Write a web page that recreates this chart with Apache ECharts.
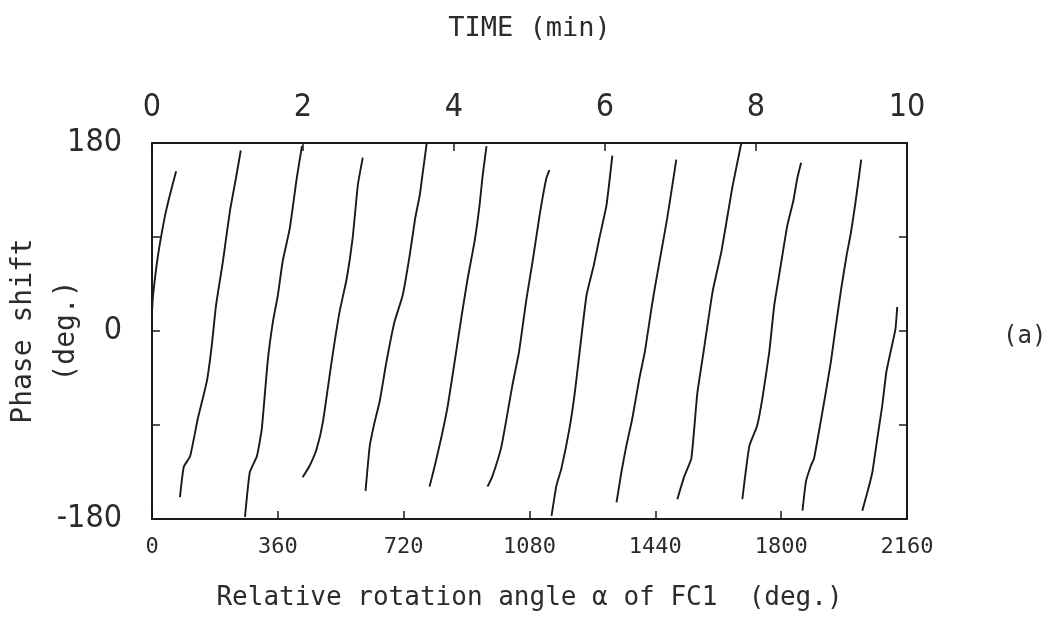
<!DOCTYPE html>
<html>
<head>
<meta charset="utf-8">
<script src="https://cdn.jsdelivr.net/npm/echarts@6/dist/echarts.min.js"></script>
<style>
  html, body { margin: 0; padding: 0; background: #fff; }
  #chart { width: 1052px; height: 619px; }
</style>
</head>
<body>
<div id="chart"></div>
<script>
// axis settings
var angleTicks = [0, 360, 720, 1080, 1440, 1800, 2160];
var timeTicks = [0, 2, 4, 6, 8, 10];
var phaseLabels = [-180, 0, 180];

// sawtooth branches: [relative rotation angle (deg), phase shift (deg)]
var seg1 = [[0, 18], [3, 34], [17, 72], [37, 110], [51, 130], [69, 153]];
var seg2 = [[80, -159], [91, -130], [109, -120], [131, -84], [157, -48], [171, -14], [183, 24], [203, 67], [223, 115], [240, 146], [254, 173]];
var seg3 = [[266, -178], [280, -135], [300, -120], [314, -94], [331, -29], [346, 9], [360, 34], [374, 67], [394, 98], [414, 146], [429, 177]];
var seg4 = [[431, -140], [451, -129], [471, -113], [489, -87], [514, -29], [537, 19], [557, 50], [574, 89], [589, 140], [603, 166]];
var seg5 = [[611, -153], [623, -110], [637, -87], [651, -68], [671, -29], [694, 9], [717, 34], [737, 72], [753, 108], [766, 130], [774, 150], [786, 180]];
var seg6 = [[794, -149], [809, -129], [829, -100], [846, -72], [866, -29], [886, 15], [903, 50], [923, 86], [937, 120], [946, 149], [957, 177]];
var seg7 = [[960, -149], [974, -139], [1000, -110], [1031, -52], [1050, -20], [1071, 30], [1089, 67], [1109, 111], [1128, 146], [1137, 154]];
var seg8 = [[1143, -177], [1157, -148], [1171, -132], [1194, -94], [1210, -58], [1243, 34], [1264, 63], [1280, 89], [1300, 120], [1317, 168]];
var seg9 = [[1329, -164], [1343, -135], [1357, -110], [1374, -84], [1394, -46], [1410, -20], [1429, 22], [1440, 44], [1457, 76], [1474, 108], [1500, 164]];
var seg10 = [[1503, -161], [1523, -139], [1543, -122], [1560, -60], [1578, -20], [1604, 38], [1629, 76], [1660, 137], [1686, 180]];
var seg11 = [[1689, -161], [1709, -110], [1731, -91], [1746, -65], [1766, -20], [1780, 24], [1796, 57], [1817, 100], [1835, 125], [1846, 146], [1857, 161]];
var seg12 = [[1861, -172], [1871, -144], [1885, -129], [1894, -122], [1913, -87], [1928, -58], [1942, -30], [1956, 4], [1972, 41], [1987, 72], [2000, 95], [2013, 124], [2029, 164]];
var seg13 = [[2032, -172], [2047, -154], [2061, -135], [2075, -103], [2089, -72], [2101, -39], [2113, -20], [2127, 2], [2132, 23]];

var segments = [seg1, seg2, seg3, seg4, seg5, seg6, seg7, seg8, seg9, seg10, seg11, seg12, seg13];

var INK = '#1a1a1a';
var TEXT = '#2b2b2b';
var NARROW = "'Liberation Sans Narrow', 'DejaVu Sans Condensed', 'DejaVu Sans', sans-serif";
var MONO = "'DejaVu Sans Mono', 'Liberation Mono', monospace";

var chart = echarts.init(document.getElementById('chart'));

var frameLine = { show: true, onZero: false, lineStyle: { color: INK, width: 2 } };
var innerTick = { show: true, inside: true, length: 8, lineStyle: { color: INK, width: 1.5 } };

var series = segments.map(function (seg, i) {
    return {
        name: 'branch' + (i + 1),
        type: 'line',
        xAxisIndex: 0,
        yAxisIndex: 0,
        data: seg,
        showSymbol: false,
        smooth: 0.15,
        lineStyle: { color: INK, width: 1.9 },
        silent: true
    };
});

var option = {
    animation: false,
    backgroundColor: '#ffffff',
    title: {
        text: '(a)',
        left: 998,
        top: 320,
        textStyle: { fontFamily: MONO, fontSize: 24, fontWeight: 'normal', color: TEXT }
    },
    grid: { left: 152, right: 145, top: 143, bottom: 100, containLabel: false, outerBoundsMode: 'none' },
    xAxis: [
        {
            type: 'value',
            position: 'bottom',
            min: angleTicks[0],
            max: angleTicks[angleTicks.length - 1],
            interval: 360,
            axisLine: frameLine,
            axisTick: innerTick,
            splitLine: { show: false },
            axisLabel: {
                margin: 17, fontFamily: MONO, fontSize: 22, color: TEXT,
                formatter: function (v) { return String(v); }
            },
            name: 'Relative rotation angle α of FC1  (deg.)',
            nameLocation: 'middle',
            nameGap: 66,
            nameMoveOverlap: false,
            nameTextStyle: { fontFamily: MONO, fontSize: 26, color: TEXT }
        },
        {
            type: 'value',
            position: 'top',
            min: timeTicks[0],
            max: timeTicks[timeTicks.length - 1],
            interval: 2,
            axisLine: frameLine,
            axisTick: innerTick,
            splitLine: { show: false },
            axisLabel: { margin: 19, fontFamily: NARROW, fontSize: 32, color: TEXT },
            name: 'TIME (min)',
            nameLocation: 'middle',
            nameGap: 101,
            nameMoveOverlap: false,
            nameTextStyle: { fontFamily: MONO, fontSize: 27, color: TEXT }
        }
    ],
    yAxis: [
        {
            type: 'value',
            position: 'left',
            min: -180,
            max: 180,
            interval: 90,
            axisLine: frameLine,
            axisTick: innerTick,
            splitLine: { show: false },
            axisLabel: {
                margin: 30,
                fontFamily: NARROW,
                fontSize: 32,
                color: TEXT,
                formatter: function (v) {
                    return phaseLabels.indexOf(v) >= 0 ? String(v) : '';
                }
            },
            name: 'Phase shift\n(deg.)',
            nameLocation: 'middle',
            nameRotate: 90,
            nameGap: 64,
            nameMoveOverlap: false,
            nameTextStyle: { fontFamily: MONO, fontSize: 28, lineHeight: 43, color: TEXT, align: 'center' }
        },
        {
            type: 'value',
            position: 'right',
            min: -180,
            max: 180,
            interval: 90,
            axisLine: frameLine,
            axisTick: innerTick,
            splitLine: { show: false },
            axisLabel: { show: false }
        }
    ],
    series: series
};

chart.setOption(option);
</script>
</body>
</html>
